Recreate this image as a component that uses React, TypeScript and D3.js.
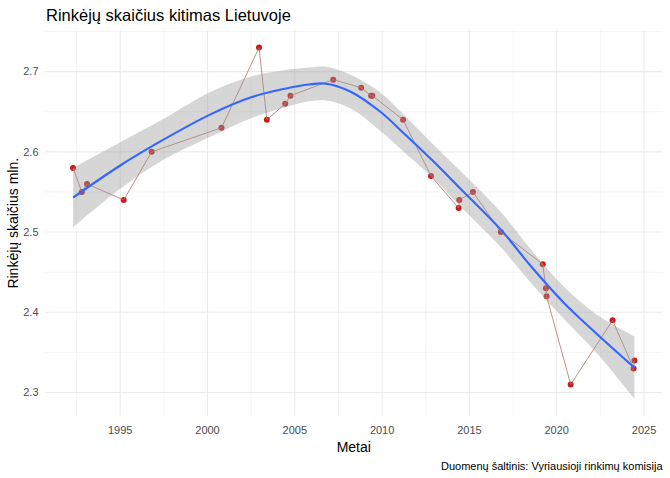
import { useMemo } from "react";
import * as d3 from "d3";

const WIDTH = 670;
const HEIGHT = 478;
const MARGIN = { top: 30, right: 7.5, bottom: 61.5, left: 45 };
const FONT = "'Liberation Sans', Arial, sans-serif";

// election dates (decimal years) and registered voters, millions
const years = [
  1992.3, 1992.8, 1993.1, 1995.2, 1996.8, 2000.8, 2002.95, 2003.4, 2004.45,
  2004.75, 2007.2, 2008.8, 2009.37, 2009.44, 2011.2, 2012.8, 2014.38, 2014.42,
  2015.2, 2016.8, 2019.2, 2019.38, 2019.42, 2020.8, 2023.2, 2024.4, 2024.45,
];
const voters = [
  2.58, 2.55, 2.56, 2.54, 2.6, 2.63, 2.73, 2.64, 2.66, 2.67, 2.69, 2.68, 2.67,
  2.67, 2.64, 2.57, 2.53, 2.54, 2.55, 2.5, 2.46, 2.43, 2.42, 2.31, 2.39, 2.33,
  2.34,
];

// loess smooth
const smoothYears = [
  1992.3, 1995.0, 1997.3, 2000.2, 2002.5, 2004.5, 2005.8, 2006.8, 2008.2,
  2009.9, 2011.3, 2012.8, 2014.4, 2016.8, 2018.5, 2020.4, 2022.3, 2024.45,
];
const smoothFit = [
  2.543, 2.583, 2.613, 2.647, 2.668, 2.679, 2.684, 2.685, 2.675, 2.65, 2.622,
  2.591, 2.556, 2.503, 2.458, 2.412, 2.373, 2.331,
];
const smoothLower = [
  2.506, 2.554, 2.588, 2.619, 2.642, 2.656, 2.663, 2.664, 2.654, 2.626, 2.599,
  2.57, 2.534, 2.481, 2.437, 2.392, 2.349, 2.292,
];
const smoothUpper = [
  2.58, 2.612, 2.639, 2.675, 2.694, 2.702, 2.705, 2.706, 2.696, 2.674, 2.645,
  2.612, 2.578, 2.525, 2.479, 2.432, 2.397, 2.37,
];

const xTicks = [1995, 2000, 2005, 2010, 2015, 2020, 2025];
const xMinor = [1992.5, 1997.5, 2002.5, 2007.5, 2012.5, 2017.5, 2022.5];
const yTicks = [2.3, 2.4, 2.5, 2.6, 2.7];
const yMinor = [2.35, 2.45, 2.55, 2.65, 2.75];

const expand = ([lo, hi]: number[]) => {
  const pad = (hi - lo) * 0.05;
  return [lo - pad, hi + pad];
};

export default function App() {
  const boundsWidth = WIDTH - MARGIN.left - MARGIN.right;
  const boundsHeight = HEIGHT - MARGIN.top - MARGIN.bottom;

  const xScale = useMemo(
    () =>
      d3
        .scaleLinear()
        .domain(expand(d3.extent(years) as number[]))
        .range([0, boundsWidth]),
    [boundsWidth]
  );

  const yScale = useMemo(() => {
    const lo = Math.min(d3.min(voters)!, d3.min(smoothLower)!);
    const hi = Math.max(d3.max(voters)!, d3.max(smoothUpper)!);
    return d3.scaleLinear().domain(expand([lo, hi])).range([boundsHeight, 0]);
  }, [boundsHeight]);

  const points = years
    .map((y, i) => ({ x: y, v: voters[i] }))
    .sort((a, b) => a.x - b.x);

  const linePath = d3
    .line<{ x: number; v: number }>()
    .x((d) => xScale(d.x))
    .y((d) => yScale(d.v))(points);

  const smooth = smoothYears.map((x, i) => ({
    x,
    fit: smoothFit[i],
    lo: smoothLower[i],
    hi: smoothUpper[i],
  }));

  const curve = d3.curveCatmullRom.alpha(0.5);

  const ribbonPath = d3
    .area<(typeof smooth)[number]>()
    .x((d) => xScale(d.x))
    .y0((d) => yScale(d.lo))
    .y1((d) => yScale(d.hi))
    .curve(curve)(smooth);

  const fitPath = d3
    .line<(typeof smooth)[number]>()
    .x((d) => xScale(d.x))
    .y((d) => yScale(d.fit))
    .curve(curve)(smooth);

  return (
    <svg
      width={WIDTH}
      height={HEIGHT}
      style={{ position: "absolute", left: 0, top: 0, background: "#fff" }}
      fontFamily={FONT}
    >
      <text x={46} y={21} fontSize={16.5} fill="#000">
        Rinkėjų skaičius kitimas Lietuvoje
      </text>

      <g transform={`translate(${MARGIN.left}, ${MARGIN.top})`}>
        {/* grid */}
        {xMinor.map((t) => (
          <line
            key={"xm" + t}
            x1={xScale(t)}
            x2={xScale(t)}
            y1={0}
            y2={boundsHeight}
            stroke="#ebebeb"
            strokeWidth={0.55}
          />
        ))}
        {yMinor.map((t) => (
          <line
            key={"ym" + t}
            x1={0}
            x2={boundsWidth}
            y1={yScale(t)}
            y2={yScale(t)}
            stroke="#ebebeb"
            strokeWidth={0.55}
          />
        ))}
        {xTicks.map((t) => (
          <line
            key={"x" + t}
            x1={xScale(t)}
            x2={xScale(t)}
            y1={0}
            y2={boundsHeight}
            stroke="#ebebeb"
            strokeWidth={1.07}
          />
        ))}
        {yTicks.map((t) => (
          <line
            key={"y" + t}
            x1={0}
            x2={boundsWidth}
            y1={yScale(t)}
            y2={yScale(t)}
            stroke="#ebebeb"
            strokeWidth={1.07}
          />
        ))}

        {/* points, connecting line, smooth */}
        {points.map((d, i) => (
          <circle
            key={i}
            cx={xScale(d.x)}
            cy={yScale(d.v)}
            r={3}
            fill="#cd1818"
          />
        ))}
        <path d={linePath ?? ""} fill="none" stroke="#ad7366" strokeWidth={0.8} />
        <path d={ribbonPath ?? ""} fill="#999999" fillOpacity={0.4} />
        <path d={fitPath ?? ""} fill="none" stroke="#3366ff" strokeWidth={2.1} />

        {/* axis labels */}
        {xTicks.map((t) => (
          <text
            key={"xl" + t}
            x={xScale(t)}
            y={boundsHeight + 17.5}
            textAnchor="middle"
            fontSize={11}
            fill="#4d4d4d"
          >
            {t}
          </text>
        ))}
        {yTicks.map((t) => (
          <text
            key={"yl" + t}
            x={-6.5}
            y={yScale(t)}
            dy="0.35em"
            textAnchor="end"
            fontSize={11}
            fill="#4d4d4d"
          >
            {t.toFixed(1)}
          </text>
        ))}
      </g>

      <text
        x={MARGIN.left + boundsWidth / 2}
        y={452}
        textAnchor="middle"
        fontSize={14}
        fill="#000"
      >
        Metai
      </text>
      <text
        transform={`translate(13, ${MARGIN.top + boundsHeight / 2}) rotate(-90)`}
        textAnchor="middle"
        dy="0.35em"
        fontSize={14}
        fill="#000"
      >
        Rinkėjų skaičius mln.
      </text>
      <text x={662.5} y={470} textAnchor="end" fontSize={11} fill="#000">
        Duomenų šaltinis: Vyriausioji rinkimų komisija
      </text>
    </svg>
  );
}
